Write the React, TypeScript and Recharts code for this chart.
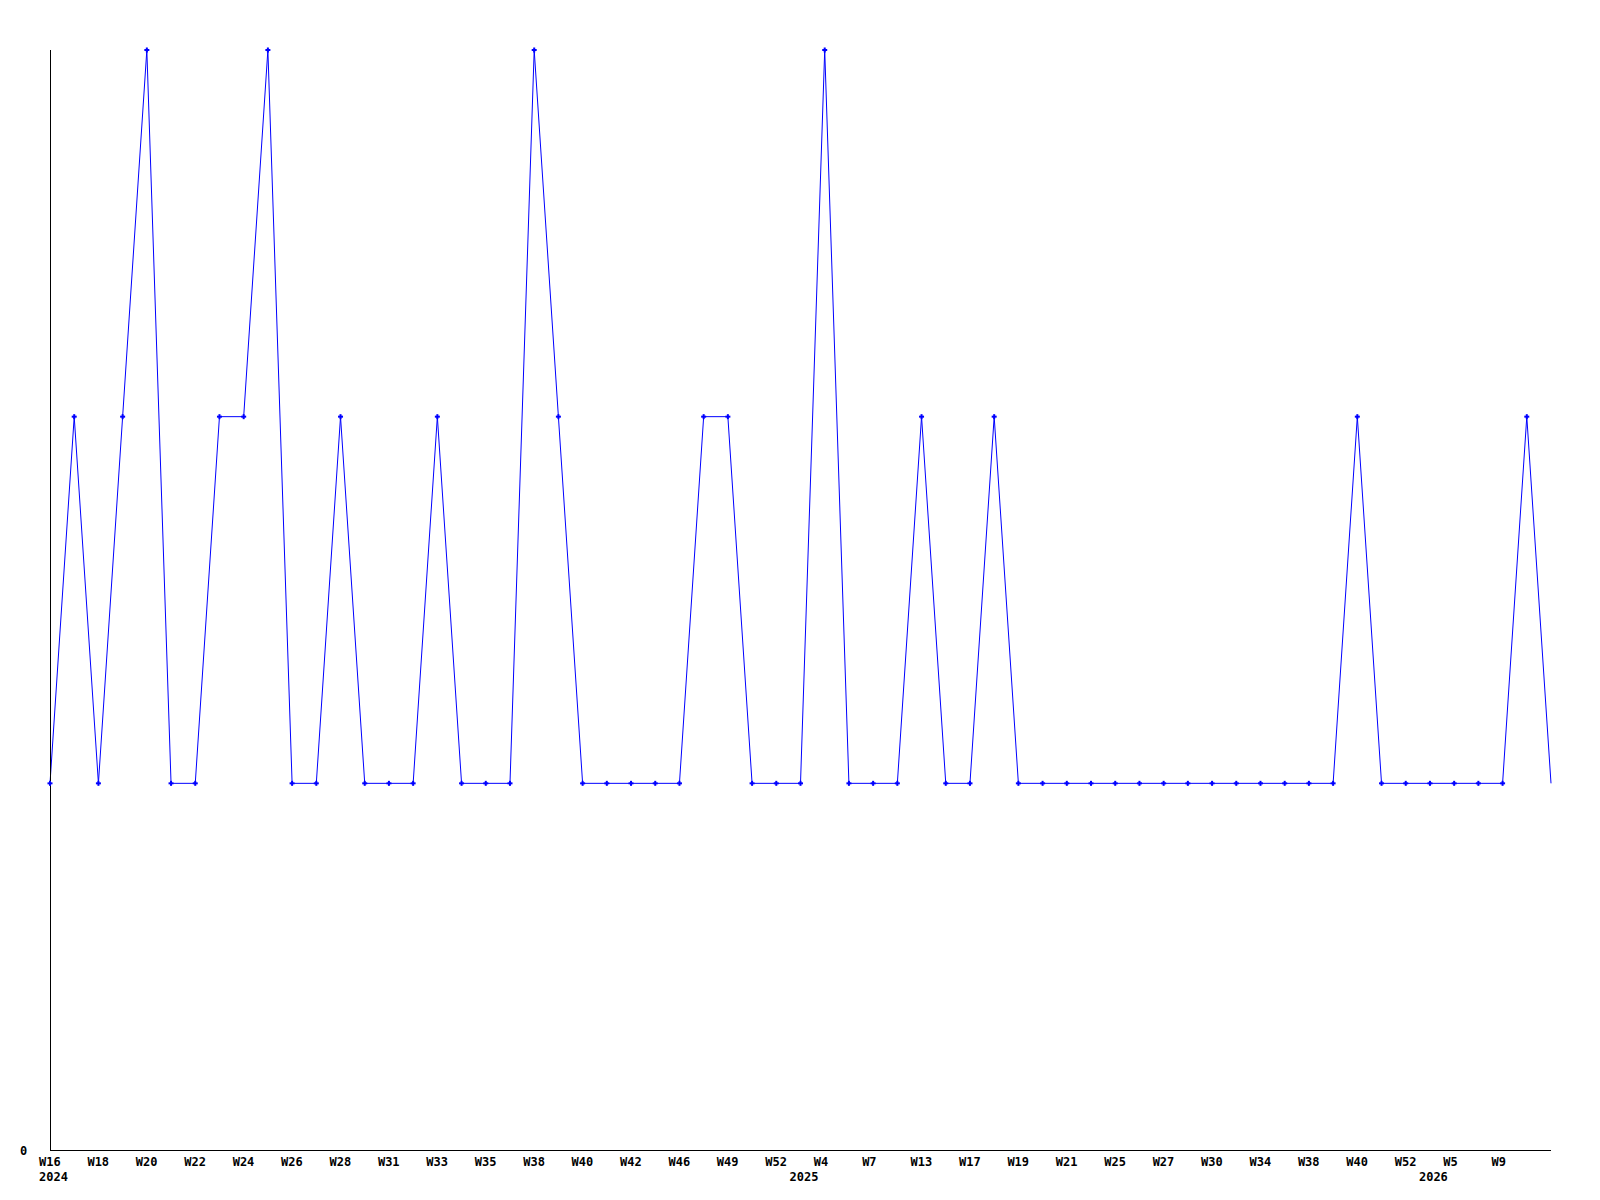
import React from "react";
import { LineChart, Line, XAxis, YAxis } from "recharts";

const weekLabels = [
  "W16", "W17", "W18", "W19", "W20", "W21", "W22", "W23", "W24", "W25",
  "W26", "W27", "W28", "W30", "W31", "W32", "W33", "W34", "W35", "W37",
  "W38", "W39", "W40", "W41", "W42", "W44", "W46", "W48", "W49", "W51",
  "W52", "W1", "W4", "W6", "W7", "W10", "W13", "W15", "W17", "W18",
  "W19", "W20", "W21", "W23", "W25", "W26", "W27", "W29", "W30", "W32",
  "W34", "W36", "W38", "W39", "W40", "W45", "W52", "W2", "W5", "W7",
  "W9", "W11", "W12",
];

const yearLabels: Record<number, string> = { 0: "2024", 31: "2025", 57: "2026" };

const counts = [
  1, 2, 1, 2, 3, 1, 1, 2, 2, 3,
  1, 1, 2, 1, 1, 1, 2, 1, 1, 1,
  3, 2, 1, 1, 1, 1, 1, 2, 2, 1,
  1, 1, 3, 1, 1, 1, 2, 1, 1, 2,
  1, 1, 1, 1, 1, 1, 1, 1, 1, 1,
  1, 1, 1, 1, 2, 1, 1, 1, 1, 1,
  1, 2, 1,
];

const yTicks = [0];

const data = weekLabels.map((w, i) => ({ week: w, count: counts[i], idx: i }));

const FONT = "'DejaVu Sans Mono', 'Liberation Mono', monospace";

const XTick = (props: any) => {
  const { x, y, payload } = props;
  const i = payload.index;
  const showWeek = i % 2 === 0 && i !== weekLabels.length - 1;
  const year = yearLabels[i];
  return (
    <g>
      {showWeek && (
        <text x={x - 11} y={y + 16} textAnchor="start" fontFamily={FONT} fontWeight="bold" fontSize={12} fill="#000">
          {payload.value}
        </text>
      )}
      {year && (
        <text x={x - 11} y={y + 31} textAnchor="start" fontFamily={FONT} fontWeight="bold" fontSize={12} fill="#000">
          {year}
        </text>
      )}
    </g>
  );
};

const YTick = (props: any) => {
  const { y, payload } = props;
  return (
    <text x={20} y={y + 5} textAnchor="start" fontFamily={FONT} fontWeight="bold" fontSize={12} fill="#000">
      {payload.value}
    </text>
  );
};

const Marker = (props: any) => {
  const { cx, cy, index } = props;
  if (index === counts.length - 1) return <g key={`d${index}`} />;
  return (
    <g key={`d${index}`}>
      <rect x={cx - 2.5} y={cy - 1} width={5} height={2} fill="#0000ff" />
      <rect x={cx - 1} y={cy - 2.5} width={2} height={5} fill="#0000ff" />
    </g>
  );
};

export default function App() {
  return (
    <div style={{ position: "absolute", left: 0, top: 0, width: 1600, height: 1200, background: "#fff" }}>
      <LineChart width={1600} height={1200} data={data} margin={{ top: 50, right: 49, bottom: 0, left: 0 }}>
        <XAxis
          dataKey="week"
          interval={0}
          tickLine={false}
          tickSize={0}
          tickMargin={0}
          height={50}
          axisLine={{ stroke: "#000", strokeWidth: 1, shapeRendering: "crispEdges" }}
          tick={<XTick />}
        />
        <YAxis
          domain={[0, 3]}
          ticks={yTicks}
          width={50}
          tickLine={false}
          tickSize={0}
          tickMargin={0}
          axisLine={{ stroke: "#000", strokeWidth: 1, shapeRendering: "crispEdges" }}
          tick={<YTick />}
        />
        <Line
          type="linear"
          dataKey="count"
          stroke="#0000ff"
          strokeWidth={1}
          dot={Marker}
          activeDot={false}
          isAnimationActive={false}
        />
      </LineChart>
    </div>
  );
}
